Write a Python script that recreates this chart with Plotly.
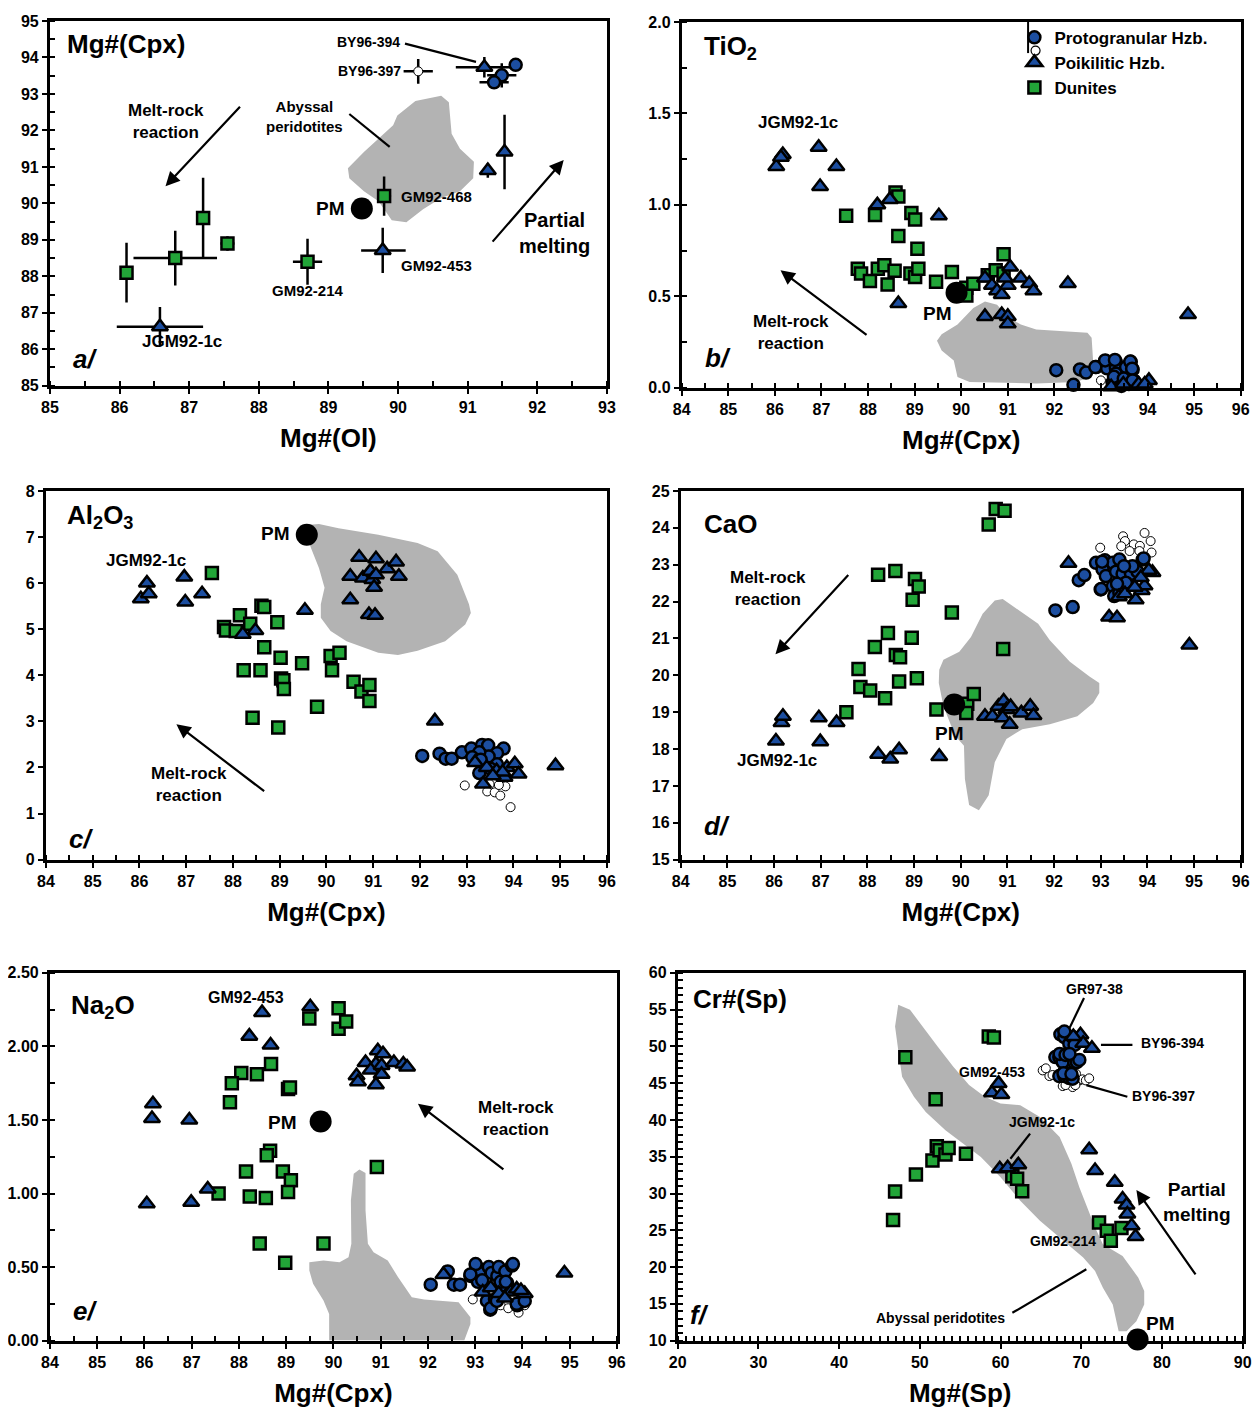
import plotly.graph_objects as go

# ================= DATA =================
# ---- panel a: Mg#(Ol) vs Mg#(Cpx), with error bars ----
a_dun_x = [86.1, 86.8, 87.2, 87.55, 88.7, 89.8]
a_dun_y = [88.1, 88.5, 89.6, 88.9, 88.4, 90.2]
a_dun_ex = [0.08, 0.6, 0.08, 0.1, 0.21, 0.1]
a_dun_ey = [0.82, 0.75, 1.1, 0.2, 0.63, 0.54]
a_poi_x = [86.58, 89.78, 91.29, 91.53, 91.24]
a_poi_y = [86.62, 88.71, 90.9, 91.41, 93.73]
a_poi_exm = [0.62, 0.31, 0.07, 0.05, 0.41]
a_poi_exp = [0.62, 0.33, 0.07, 0.05, 0.45]
a_poi_ey = [0.54, 0.62, 0.2, 1.02, 0.28]
a_pro_x = [91.69, 91.49, 91.38]
a_pro_y = [93.8, 93.51, 93.32]
a_pro_ex = [0.08, 0.21, 0.21]
a_pro_ey = [0.08, 0.33, 0.15]
a_open_x = [90.29]
a_open_y = [93.62]
a_open_ex = [0.21]
a_open_ey = [0.34]
a_pm = (89.48, 89.86)
a_field_x = [89.28, 89.30, 89.51, 89.72, 89.91, 90.12, 90.36, 90.62, 90.89, 91.08, 91.09, 90.89,
             90.77, 90.73, 90.62, 90.25, 89.99, 89.93, 89.51]
a_field_y = [90.96, 90.69, 90.33, 90.06, 89.54, 89.48, 89.84, 90.15, 90.33, 90.69, 91.14, 91.50,
             91.91, 92.77, 92.95, 92.81, 92.41, 92.14, 91.41]

# ---- panel b: TiO2 ----
b_poi_x = [86.03, 86.17, 86.13, 86.94, 86.97, 87.32, 88.2, 88.47, 88.65, 89.52, 90.51, 90.51, 90.66,
           90.77, 90.87, 90.87, 91.0, 91.0, 91.05, 91.0, 90.94, 91.28, 91.46, 91.55, 92.29, 94.87,
           93.22, 93.48, 93.81, 94.03, 93.94]
b_poi_y = [1.21, 1.275, 1.26, 1.315, 1.10, 1.21, 1.00, 1.03, 0.46, 0.94, 0.39, 0.60, 0.56,
           0.53, 0.51, 0.40, 0.39, 0.35, 0.66, 0.56, 0.60, 0.60, 0.57, 0.53, 0.57, 0.40,
           0.005, 0.02, 0.02, 0.04, 0.02]
b_dun_x = [87.53, 88.15, 88.59, 88.65, 88.93, 89.01, 88.65, 89.06, 87.78, 87.85, 88.04, 88.21, 88.35,
           88.42, 88.57, 88.91, 89.01, 89.08, 89.46, 89.80, 90.11, 90.11, 90.26, 90.57, 90.74, 90.91,
           90.91]
b_dun_y = [0.94, 0.945, 1.067, 1.046, 0.956, 0.92, 0.83, 0.76, 0.65, 0.625, 0.583, 0.65, 0.67,
           0.565, 0.64, 0.625, 0.606, 0.65, 0.58, 0.633, 0.547, 0.504, 0.569, 0.615, 0.642, 0.73,
           0.625]
b_pro_x = [92.04, 92.55, 92.68, 92.41, 92.90, 93.10, 93.13, 93.32, 93.32, 93.32, 93.54, 93.64, 93.68,
           93.25, 93.28, 93.50, 93.71, 93.44, 93.60, 93.09, 93.30, 92.88, 93.63, 93.67, 93.49, 93.68]
b_pro_y = [0.096, 0.10, 0.083, 0.016, 0.113, 0.146, 0.106, 0.142, 0.106, 0.077, 0.113, 0.142, 0.099,
           0.029, 0.06, 0.047, 0.038, 0.01, 0.02, 0.149, 0.152, 0.113, 0.143, 0.104, 0.05, 0.04]
b_open_x = [93.0, 93.65, 93.73]
b_open_y = [0.04, 0.02, 0.03]
b_pm = (89.9, 0.52)
b_field_x = [89.48, 89.58, 89.92, 90.26, 90.51, 90.77, 91.02, 91.28, 91.61, 92.29, 92.71, 92.80, 92.84,
             92.78, 92.46, 91.61, 90.77, 90.18, 89.92, 89.84, 89.58]
b_field_y = [0.257, 0.292, 0.346, 0.436, 0.472, 0.454, 0.382, 0.346, 0.319, 0.310, 0.301, 0.274, 0.113,
             0.059, 0.032, 0.023, 0.027, 0.032, 0.059, 0.149, 0.203]

# ---- panel c: Al2O3 ----
c_poi_x = [86.03, 86.16, 86.2, 86.96, 86.98, 87.34, 88.21, 88.48, 89.54, 90.70, 91.06, 90.51, 90.78,
           90.94, 90.98, 91.06, 91.30, 91.49, 91.55, 90.51, 91.02, 90.91, 91.04, 92.32, 94.9,
           93.18, 93.43, 93.35, 93.64, 93.81, 93.86, 94.03, 94.11, 93.77, 93.56]
c_poi_y = [5.66, 6.0, 5.77, 6.13, 5.59, 5.77, 4.89, 4.97, 5.41, 6.56, 6.53, 6.15, 6.11,
           6.26, 6.08, 6.18, 6.31, 6.46, 6.15, 5.64, 5.91, 5.32, 5.30, 3.01, 2.04,
           2.11, 2.0, 1.64, 1.93, 1.79, 2.0, 2.08, 1.86, 1.9, 1.82]
c_dun_x = [87.55, 87.81, 87.85, 88.06, 88.15, 88.37, 88.61, 88.67, 88.95, 88.67, 89.02, 88.23, 88.59,
           89.03, 89.08, 89.09, 89.48, 88.42, 88.97, 89.8, 90.09, 90.28, 90.12, 90.58, 90.75, 90.92,
           90.92]
c_dun_y = [6.22, 5.05, 4.97, 4.96, 5.30, 5.12, 5.51, 5.48, 5.15, 4.61, 4.38, 4.11, 4.11,
           3.93, 3.89, 3.70, 4.26, 3.08, 2.87, 3.32, 4.42, 4.49, 4.11, 3.86, 3.65, 3.79,
           3.44]
c_pro_x = [92.05, 92.42, 92.55, 92.68, 92.90, 93.10, 93.33, 93.46, 93.79, 93.65, 93.47, 93.27, 93.12,
           93.30, 93.65, 93.27, 93.51]
c_pro_y = [2.25, 2.30, 2.19, 2.19, 2.33, 2.41, 2.49, 2.48, 2.41, 2.31, 2.24, 2.33, 2.22,
           2.17, 2.07, 1.88, 1.97]
c_open_x = [92.96, 93.49, 93.44, 93.60, 93.72, 93.83, 93.94, 93.69]
c_open_y = [1.61, 1.64, 1.48, 1.46, 1.39, 1.59, 1.14, 1.62]
c_pm = (89.58, 7.05)
c_field_x = [89.57, 89.84, 90.26, 91.11, 91.95, 92.38, 92.80, 93.05, 93.09, 92.97, 92.54, 91.95, 91.53,
             91.11, 90.43, 90.09, 89.88, 89.88, 89.96, 89.84, 89.67, 89.57]
c_field_y = [7.26, 7.28, 7.19, 7.05, 6.87, 6.69, 6.18, 5.54, 5.35, 5.10, 4.74, 4.53, 4.44,
             4.49, 4.74, 4.96, 5.25, 5.54, 5.90, 6.33, 6.76, 7.05]

# ---- panel d: CaO ----
d_dun_x = [90.75, 90.94, 90.60, 88.23, 88.60, 89.02, 89.10, 88.97, 89.81, 88.44, 88.95, 88.16, 88.61,
           88.70, 90.91, 87.81, 87.85, 88.06, 88.68, 89.06, 88.38, 87.55, 89.48, 90.14, 90.12, 90.28]
d_dun_y = [24.51, 24.46, 24.09, 22.73, 22.83, 22.61, 22.41, 22.05, 21.70, 21.15, 21.02, 20.77, 20.55,
           20.49, 20.71, 20.17, 19.68, 19.59, 19.83, 19.92, 19.38, 19.0, 19.07, 19.23, 18.98, 19.49]
d_poi_x = [86.04, 86.16, 86.19, 86.96, 86.99, 87.34, 88.23, 88.49, 88.68, 89.54, 90.52, 90.68, 90.81,
           90.92, 90.98, 90.90, 91.07, 91.05, 91.30, 91.49, 91.56, 92.31, 93.18, 93.35, 94.90, 93.75,
           93.88, 93.94, 94.11, 94.03, 93.39, 93.52, 93.86, 93.73]
d_poi_y = [18.22, 18.72, 18.89, 18.85, 18.20, 18.72, 17.86, 17.73, 17.98, 17.80, 18.89, 18.89, 19.16,
           19.30, 19.07, 18.85, 19.15, 18.67, 18.98, 19.16, 18.91, 23.04, 21.58, 21.56, 20.82, 22.05,
           22.30, 22.43, 22.79, 22.85, 22.13, 22.21, 22.65, 22.39]
d_pro_x = [92.03, 92.40, 92.53, 92.65, 92.90, 93.09, 93.26, 93.40, 93.0, 93.04, 93.11, 93.33, 93.47,
           93.65, 93.79, 93.90, 93.26, 93.29, 93.54, 93.68, 93.5, 93.40, 93.01, 93.03, 93.92, 93.35]
d_pro_y = [21.76, 21.85, 22.58, 22.72, 23.05, 23.12, 23.05, 23.14, 22.33, 22.87, 22.69, 22.81, 22.75,
           22.75, 22.81, 23.14, 22.42, 22.15, 22.51, 22.96, 22.96, 22.24, 22.34, 23.08, 23.17, 22.48]
d_open_x = [92.99, 93.48, 93.52, 93.71, 93.84, 93.94, 94.07, 94.09, 93.62, 93.83, 93.44]
d_open_y = [23.46, 23.77, 23.64, 23.55, 23.51, 23.86, 23.64, 23.33, 23.37, 23.37, 23.5]
d_pm = (89.86, 19.21)
d_field_x = [89.54, 89.63, 89.97, 90.22, 90.47, 90.73, 90.90, 91.24, 91.66, 91.91, 92.34, 92.76, 92.97,
             92.97, 92.84, 92.50, 91.91, 91.32, 90.98, 90.73, 90.60, 90.39, 90.18, 90.09, 90.07, 89.88,
             89.63, 89.53]
d_field_y = [20.15, 20.42, 20.64, 21.04, 21.67, 22.03, 22.07, 21.76, 21.40, 20.95, 20.37, 19.97, 19.79,
             19.52, 19.25, 18.89, 18.67, 18.54, 18.27, 17.64, 16.75, 16.34, 16.48, 17.19, 18.09, 18.36,
             19.16, 19.79]

# ---- panel e: Na2O ----
e_poi_x = [89.51, 88.49, 88.22, 88.67, 86.18, 86.16, 86.95, 86.05, 86.99, 87.34, 90.94, 91.05, 90.68,
           90.90, 90.79, 91.02, 91.28, 91.48, 91.56, 90.49, 90.52, 91.02, 90.90, 92.33, 94.89,
           93.16, 93.33, 93.50, 93.75, 93.88, 94.05, 93.63, 93.97]
e_poi_y = [2.27, 2.23, 2.07, 2.01, 1.61, 1.51, 1.50, 0.93, 0.94, 1.03, 1.97, 1.95, 1.89,
           1.88, 1.84, 1.87, 1.89, 1.88, 1.86, 1.80, 1.76, 1.81, 1.74, 0.45, 0.46,
           0.33, 0.36, 0.32, 0.33, 0.35, 0.32, 0.29, 0.34]
e_dun_x = [90.11, 89.49, 90.11, 90.27, 88.68, 88.05, 88.38, 87.85, 87.81, 89.04, 89.08, 88.66, 88.59,
           88.15, 88.93, 89.10, 87.57, 88.23, 88.57, 89.04, 90.92, 88.44, 89.79, 88.98]
e_dun_y = [2.26, 2.19, 2.12, 2.17, 1.88, 1.82, 1.81, 1.75, 1.62, 1.71, 1.72, 1.29, 1.26,
           1.15, 1.15, 1.09, 1.00, 0.98, 0.97, 1.01, 1.18, 0.66, 0.66, 0.53]
e_pro_x = [92.06, 92.42, 92.55, 92.68, 92.90, 93.02, 93.09, 93.06, 93.29, 93.35, 93.47, 93.50, 93.64,
           93.78, 93.68, 93.54, 93.15, 93.32, 93.89, 93.25, 93.42, 93.01, 93.80, 92.90, 93.54, 93.65,
           93.88, 93.33, 93.46, 94.05]
e_pro_y = [0.38, 0.47, 0.38, 0.38, 0.44, 0.51, 0.46, 0.40, 0.50, 0.46, 0.44, 0.50, 0.47,
           0.51, 0.39, 0.37, 0.41, 0.21, 0.24, 0.27, 0.28, 0.52, 0.52, 0.45, 0.40, 0.40,
           0.25, 0.22, 0.27, 0.27]
e_open_x = [92.95, 93.92, 94.05, 93.54, 93.7]
e_open_y = [0.28, 0.19, 0.24, 0.24, 0.22]
e_pm = (89.73, 1.49)
e_field_x = [89.49, 89.79, 90.13, 90.32, 90.38, 90.37, 90.43, 90.55, 90.68, 90.68, 90.73, 90.85, 91.15,
             91.37, 91.66, 91.92, 92.65, 92.90, 92.90, 92.77, 89.91, 89.91, 89.79, 89.57, 89.49]
e_field_y = [0.533, 0.544, 0.533, 0.567, 0.658, 0.953, 1.134, 1.164, 1.139, 0.885, 0.658, 0.601, 0.544,
             0.431, 0.295, 0.279, 0.261, 0.159, 0.113, 0.0, 0.0, 0.181, 0.272, 0.386, 0.476]

# ---- panel f: Mg#(Sp) vs Cr#(Sp) ----
f_dun_x = [46.68, 46.93, 48.20, 49.51, 51.56, 51.95, 52.10, 52.44, 53.17, 53.56, 55.71, 58.54, 59.17,
           61.46, 62.05, 62.68, 72.20, 73.17, 73.66, 74.98]
f_dun_y = [26.39, 30.26, 48.52, 32.59, 34.50, 42.83, 36.41, 35.87, 35.32, 36.18, 35.41, 51.35, 51.21,
           32.36, 32.0, 30.31, 26.07, 24.94, 23.57, 25.30]
f_poi_x = [58.93, 59.76, 60.10, 59.90, 60.88, 62.20, 70.98, 71.71, 74.15, 75.12, 75.61, 75.71, 76.24,
           76.73, 69.90, 70.24, 71.32, 69.02]
f_poi_y = [43.70, 44.97, 43.47, 33.36, 33.50, 33.91, 35.96, 33.13, 31.54, 29.26, 28.44, 27.21, 25.62,
           24.16, 51.58, 50.44, 49.75, 51.35]
f_pro_x = [67.41, 67.90, 68.52, 68.93, 66.79, 67.28, 68.11, 67.70, 69.14, 69.45, 67.28, 67.9, 68.52,
           68.93, 68.3, 67.90, 69.17, 69.76, 67.32, 68.05, 68.54, 67.80, 68.78]
f_pro_y = [51.65, 51.28, 50.37, 51.28, 48.56, 48.56, 48.56, 47.87, 47.78, 47.87, 45.97, 45.97, 45.7,
           45.61, 46.3, 52.03, 50.21, 48.16, 48.98, 48.84, 48.98, 46.34, 46.25]
f_open_x = [65.22, 66.05, 67.70, 68.93, 69.75, 70.16, 70.57, 69.34, 67.5, 65.61, 66.44, 68.05, 69.27,
            70.98]
f_open_y = [46.74, 45.97, 44.61, 44.47, 45.38, 45.52, 45.38, 46.3, 46.5, 47.02, 46.11, 44.74, 44.74,
            45.66]
f_pm = (76.98, 10.14)
f_field_x = [47.32, 46.93, 47.32, 47.80, 49.27, 50.73, 53.17, 57.56, 60.0, 62.44, 64.88, 67.80, 70.24,
             71.71, 72.68, 73.90, 74.63, 75.61, 76.83, 77.80, 77.80, 77.07, 75.12, 72.68, 71.71, 70.73,
             69.76, 68.78, 67.32, 64.88, 62.44, 60.0, 58.05, 56.10, 54.15, 52.20, 50.24, 48.78]
f_field_y = [55.67, 52.71, 49.53, 45.88, 43.15, 41.10, 38.60, 34.95, 32.22, 29.03, 26.30, 23.57, 21.29,
             19.47, 17.19, 14.92, 11.28, 11.28, 12.64, 14.92, 16.74, 18.56, 21.52, 23.11, 25.39, 28.12,
             30.86, 34.04, 37.69, 40.42, 42.01, 42.24, 43.15, 44.74, 47.25, 49.98, 52.94, 54.99]

# legend labels
LBL_PRO = "Protogranular Hzb."
LBL_POI = "Poikilitic Hzb."
LBL_DUN = "Dunites"

# ================= STYLE =================
FONT = "Liberation Sans"
GREEN = "#22a538"
BLUE = "#1c4ea0"
GREY = "#b3b3b3"
SQ = dict(symbol="square", size=12, color=GREEN, line=dict(color="black", width=2.5))
TRI = dict(symbol="triangle-up", size=14, color=BLUE, line=dict(color="black", width=2.5))
CIR = dict(symbol="circle", size=12, color=BLUE, line=dict(color="black", width=2.5))
OPN = dict(symbol="circle", size=9, color="white", line=dict(color="black", width=1))
PMK = dict(symbol="circle", size=22, color="black", line=dict(color="black", width=0))

W, H = 1260, 1410
OFF, SC = 16.0, 0.986  # page placement correction (reference px -> figure px)


def clamp(v):
    return max(0.0, min(1.0, v))


def fxp(px):
    return clamp(((px - OFF) / SC) / W)


def fyp(py):
    return clamp(1 - ((py - OFF) / SC) / H)


fig = go.Figure()

panels = {
    "a": dict(xd=(fxp(47), fxp(605)), yd=(fyp(385), fyp(21))),
    "b": dict(xd=(fxp(680), fxp(1240)), yd=(fyp(387), fyp(22))),
    "c": dict(xd=(fxp(43), fxp(605)), yd=(fyp(858), fyp(490))),
    "d": dict(xd=(fxp(679), fxp(1240)), yd=(fyp(858), fyp(490))),
    "e": dict(xd=(fxp(47), fxp(615)), yd=(fyp(1338), fyp(971))),
    "f": dict(xd=(fxp(676), fxp(1242)), yd=(fyp(1338), fyp(971))),
}
axid = {"a": ("x", "y"), "b": ("x2", "y2"), "c": ("x3", "y3"),
        "d": ("x4", "y4"), "e": ("x5", "y5"), "f": ("x6", "y6")}


def field(p, xs, ys):
    xa, ya = axid[p]
    fig.add_trace(go.Scatter(x=xs + xs[:1], y=ys + ys[:1], mode="lines", fill="toself",
                             fillcolor=GREY, line=dict(width=0, color=GREY), xaxis=xa, yaxis=ya,
                             showlegend=False, hoverinfo="skip"))


def pts(p, xs, ys, mk, name=None, legend=False, rank=1000, **kw):
    xa, ya = axid[p]
    fig.add_trace(go.Scatter(x=xs, y=ys, mode="markers", marker=mk, xaxis=xa, yaxis=ya,
                             name=name, showlegend=legend, legendrank=rank, cliponaxis=False, **kw))


def err(arr, arrm=None):
    d = dict(type="data", array=arr, visible=True, color="black", thickness=2.5, width=0)
    if arrm is not None:
        d["symmetric"] = False
        d["arrayminus"] = arrm
    return d


# ---- panel a ----
field("a", a_field_x, a_field_y)
pts("a", a_dun_x, a_dun_y, SQ, error_x=err(a_dun_ex), error_y=err(a_dun_ey))
pts("a", a_poi_x, a_poi_y, TRI, error_x=err(a_poi_exp, a_poi_exm), error_y=err(a_poi_ey))
pts("a", a_pro_x, a_pro_y, CIR, error_x=err(a_pro_ex), error_y=err(a_pro_ey))
pts("a", a_open_x, a_open_y, OPN, error_x=err(a_open_ex), error_y=err(a_open_ey))
pts("a", [a_pm[0]], [a_pm[1]], PMK)

# ---- panel b (carries the legend) ----
field("b", b_field_x, b_field_y)
pts("b", b_open_x, b_open_y, OPN)
pts("b", b_pro_x, b_pro_y, CIR, name=LBL_PRO, legend=True, rank=1)
pts("b", b_dun_x, b_dun_y, SQ, name=LBL_DUN, legend=True, rank=3)
pts("b", b_poi_x, b_poi_y, TRI, name=LBL_POI, legend=True, rank=2)
pts("b", [b_pm[0]], [b_pm[1]], PMK)

for p, fx, fy, ox, oy, px_, py_, dx, dy, tx, ty, pm in [
    ("c", c_field_x, c_field_y, c_open_x, c_open_y, c_pro_x, c_pro_y, c_dun_x, c_dun_y, c_poi_x, c_poi_y, c_pm),
    ("d", d_field_x, d_field_y, d_open_x, d_open_y, d_pro_x, d_pro_y, d_dun_x, d_dun_y, d_poi_x, d_poi_y, d_pm),
    ("e", e_field_x, e_field_y, e_open_x, e_open_y, e_pro_x, e_pro_y, e_dun_x, e_dun_y, e_poi_x, e_poi_y, e_pm),
    ("f", f_field_x, f_field_y, f_open_x, f_open_y, f_pro_x, f_pro_y, f_dun_x, f_dun_y, f_poi_x, f_poi_y, f_pm),
]:
    field(p, fx, fy)
    pts(p, ox, oy, OPN)
    pts(p, px_, py_, CIR)
    pts(p, dx, dy, SQ)
    pts(p, tx, ty, TRI)
    pts(p, [pm[0]], [pm[1]], PMK)

# ================= AXES =================
axes_cfg = {
    "a": dict(xr=[85, 93], xd=1, xm=0.5, yr=[85, 95], yd=1, ym=0.5, yf=None, xt="Mg#(Ol)"),
    "b": dict(xr=[84, 96], xd=1, xm=0.5, yr=[0, 2], yd=0.5, ym=0.25, yf=".1f", xt="Mg#(Cpx)"),
    "c": dict(xr=[84, 96], xd=1, xm=0.5, yr=[0, 8], yd=1, ym=None, yf=None, xt="Mg#(Cpx)"),
    "d": dict(xr=[84, 96], xd=1, xm=0.5, yr=[15, 25], yd=1, ym=None, yf=None, xt="Mg#(Cpx)"),
    "e": dict(xr=[84, 96], xd=1, xm=0.5, yr=[0, 2.5], yd=0.5, ym=0.25, yf=".2f", xt="Mg#(Cpx)"),
    "f": dict(xr=[20, 90], xd=10, xm=1, yr=[10, 60], yd=5, ym=1, yf=None, xt="Mg#(Sp)"),
}
tickfont = dict(family=FONT, size=16, color="black", weight="bold")
layout_axes = {}
for i, p in enumerate("abcdef"):
    c = axes_cfg[p]
    xa, ya = axid[p]
    xname = "xaxis" if i == 0 else f"xaxis{i + 1}"
    yname = "yaxis" if i == 0 else f"yaxis{i + 1}"
    common = dict(showline=True, linecolor="black", linewidth=3, mirror=True, showgrid=False,
                  zeroline=False, ticks="outside", ticklen=5, tickwidth=2, tickcolor="black",
                  tickfont=tickfont, fixedrange=True, ticklabeloverflow="allow")
    xminor = dict(dtick=c["xm"], ticks="inside", ticklen=5, tickwidth=2, tickcolor="black", showgrid=False)
    layout_axes[xname] = dict(common, domain=list(panels[p]["xd"]), range=c["xr"], dtick=c["xd"],
                              tick0=c["xr"][0], anchor=ya, minor=xminor,
                              title=dict(text=c["xt"], standoff=14,
                                         font=dict(family=FONT, size=26, color="black", weight="bold")))
    yd = dict(common, domain=list(panels[p]["yd"]), range=c["yr"], dtick=c["yd"], tick0=c["yr"][0],
              anchor=xa)
    if c["ym"]:
        yd["minor"] = dict(dtick=c["ym"], ticks="inside", ticklen=5, tickwidth=2, tickcolor="black",
                           showgrid=False)
    if c["yf"]:
        yd["tickformat"] = c["yf"]
    layout_axes[yname] = yd

fig.update_layout(**layout_axes)

# ================= TEXT / ARROWS =================
ann = []
shapes = []


def txt(p, x, y, s, size=17, xanchor="center", italic=False):
    xa, ya = axid[p]
    if italic:
        s = f"<i>{s}</i>"
    ann.append(dict(x=x, y=y, xref=xa, yref=ya, text=s, showarrow=False, xanchor=xanchor,
                    yanchor="middle", font=dict(family=FONT, size=size, color="black", weight="bold")))


def arrow(p, x0, y0, x1, y1):
    xa, ya = axid[p]
    ann.append(dict(x=x1, y=y1, ax=x0, ay=y0, xref=xa, yref=ya, axref=xa, ayref=ya, text="",
                    showarrow=True, arrowhead=2, arrowsize=1.3, arrowwidth=2.2, arrowcolor="black"))


def seg(p, x0, y0, x1, y1):
    xa, ya = axid[p]
    shapes.append(dict(type="line", xref=xa, yref=ya, x0=x0, y0=y0, x1=x1, y1=y1,
                       line=dict(color="black", width=2.2)))


# panel a
txt("a", 85.22, 94.38, "Mg#(Cpx)", size=26, xanchor="left")
txt("a", 85.3, 85.72, "a/", size=26, xanchor="left", italic=True)
txt("a", 86.66, 92.25, "Melt-rock<br>reaction")
arrow("a", 87.75, 92.69, 86.66, 90.47)
txt("a", 88.65, 92.37, "Abyssal<br>peridotites", size=15)
seg("a", 89.3, 92.45, 89.88, 91.55)
txt("a", 90.05, 94.42, "BY96-394", size=14, xanchor="right")
seg("a", 90.1, 94.38, 91.12, 93.88)
txt("a", 90.07, 93.62, "BY96-397", size=14, xanchor="right")
txt("a", 90.02, 90.2, "GM92-468", size=15, xanchor="left")
txt("a", 89.26, 89.86, "PM", size=19, xanchor="right")
txt("a", 90.02, 88.3, "GM92-453", size=15, xanchor="left")
txt("a", 88.7, 87.6, "GM92-214", size=15)
txt("a", 86.9, 86.2, "JGM92-1c", size=17)
txt("a", 92.25, 89.2, "Partial<br>melting", size=20)
arrow("a", 91.34, 88.91, 92.38, 91.19)

# panel b
txt("b", 84.43, 1.86, "TiO<sub>2</sub>", size=26, xanchor="left")
txt("b", 84.45, 0.16, "b/", size=26, xanchor="left", italic=True)
txt("b", 86.5, 1.45, "JGM92-1c", size=17)
txt("b", 86.34, 0.30, "Melt-rock<br>reaction", size=17)
arrow("b", 88.0, 0.283, 86.12, 0.642)
txt("b", 89.49, 0.405, "PM", size=19)

# panel c
txt("c", 84.41, 7.44, "Al<sub>2</sub>O<sub>3</sub>", size=26, xanchor="left")
txt("c", 84.45, 0.45, "c/", size=26, xanchor="left", italic=True)
txt("c", 89.27, 7.07, "PM", size=19, xanchor="right")
txt("c", 86.14, 6.48, "JGM92-1c", size=17)
txt("c", 87.05, 1.63, "Melt-rock<br>reaction", size=17)
arrow("c", 88.7, 1.46, 86.79, 2.94)

# panel d
txt("d", 84.45, 24.1, "CaO", size=26, xanchor="left")
txt("d", 84.45, 15.9, "d/", size=26, xanchor="left", italic=True)
txt("d", 85.86, 22.36, "Melt-rock<br>reaction", size=17)
arrow("d", 87.62, 22.76, 86.03, 20.57)
txt("d", 89.75, 18.42, "PM", size=19)
txt("d", 86.07, 17.7, "JGM92-1c", size=17)

# panel e
txt("e", 84.4, 2.27, "Na<sub>2</sub>O", size=26, xanchor="left")
txt("e", 84.45, 0.2, "e/", size=26, xanchor="left", italic=True)
txt("e", 88.16, 2.33, "GM92-453", size=16)
txt("e", 89.28, 1.48, "PM", size=19, xanchor="right")
txt("e", 93.87, 1.51, "Melt-rock<br>reaction", size=17)
arrow("e", 93.63, 1.157, 91.79, 1.61)

# panel f
txt("f", 21.7, 56.5, "Cr#(Sp)", size=26, xanchor="left")
txt("f", 21.3, 13.5, "f/", size=26, xanchor="left", italic=True)
txt("f", 71.7, 57.8, "GR97-38", size=14)
seg("f", 70.34, 56.58, 68.54, 52.49)
txt("f", 77.1, 50.44, "BY96-394", size=14, xanchor="left")
seg("f", 72.44, 50.2, 76.34, 50.2)
txt("f", 76.1, 43.3, "BY96-397", size=14, xanchor="left")
seg("f", 70.63, 44.74, 75.71, 43.15)
txt("f", 58.88, 46.57, "GM92-453", size=14)
txt("f", 65.12, 39.73, "JGM92-1c", size=14)
seg("f", 63.66, 38.14, 61.22, 34.73)
txt("f", 67.71, 23.57, "GM92-214", size=14)
txt("f", 52.59, 13.1, "Abyssal peridotites", size=14)
seg("f", 61.46, 13.78, 70.63, 19.7)
txt("f", 84.4, 28.9, "Partial<br>melting", size=19)
arrow("f", 84.29, 18.79, 76.83, 30.49)
txt("f", 77.8, 12.3, "PM", size=19, xanchor="left")

# legend key decorations: bracket and the open-circle key beside the filled circle
shapes.append(dict(type="line", xref="paper", yref="paper", x0=fxp(1027), x1=fxp(1027),
                   y0=fyp(53), y1=fyp(22), line=dict(color="black", width=2)))
shapes.append(dict(type="circle", xref="paper", yref="paper", x0=fxp(1030), x1=fxp(1039),
                   y0=fyp(55), y1=fyp(46), line=dict(color="black", width=1.2), fillcolor="white"))

fig.update_layout(
    width=W, height=H, margin=dict(l=0, r=0, t=0, b=0),
    paper_bgcolor="white", plot_bgcolor="white",
    annotations=ann, shapes=shapes,
    legend=dict(x=((1034 - OFF) / SC - 21) / W, y=1 - (((37 - OFF) / SC) - 17.5) / H,
                xanchor="left", yanchor="top",
                bgcolor="rgba(0,0,0,0)", tracegroupgap=0, itemwidth=30,
                font=dict(family=FONT, size=17, color="black", weight="bold")),
)

fig.write_html("out.html")
